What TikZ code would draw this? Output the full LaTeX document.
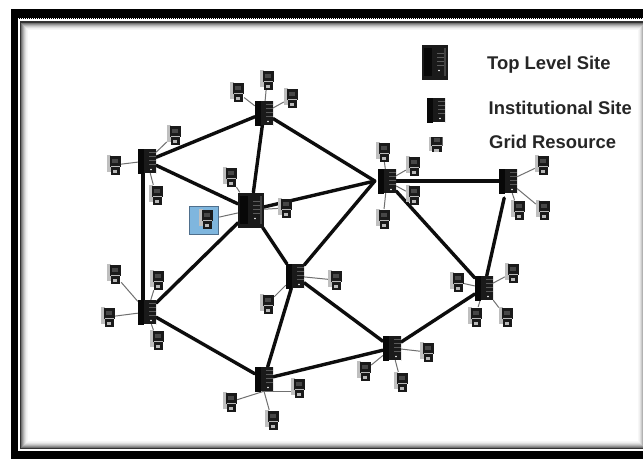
\documentclass[tikz,border=0pt]{standalone}
\usepackage{fontspec}
\setmainfont{Liberation Sans}
\usetikzlibrary{backgrounds}
\definecolor{srv}{HTML}{1A1A1A}
\definecolor{wirec}{HTML}{707070}
\definecolor{labelc}{HTML}{262626}
\definecolor{boxfill}{HTML}{7FB6DE}
\definecolor{boxline}{HTML}{4F6F8C}
\newcommand{\serverart}[1]{%
  \begin{scope}[shift={(path picture bounding box.center)},scale=#1]
    \fill[black!70!srv] (-11,-14) rectangle (-3,14);
    \fill[white!18!srv] (9,-14) rectangle (11,14);
    \foreach \yy in {-9,-5,-1,3}{\fill[white!28!srv] (2,\yy) rectangle (9,\yy+.9);}
    \fill[white!70] (4,8.5) circle (.9);
  \end{scope}}
\newcommand{\resourceart}[1]{%
  \begin{scope}[shift={(path picture bounding box.center)},yscale=#1]
    \fill[gray!50] (-7,-10) rectangle (-3.5,7);
    \fill[srv] (-4.5,-9) rectangle (7,1.5);
    \fill[srv] (-3.5,1.5) rectangle (6,10);
    \fill[black!72] (-2,-6.5) rectangle (4,-2);
    \fill[gray!55] (-1.5,4.5) rectangle (3,7.5);
    \draw[gray!55, line width=.5pt] (-3.5,1.5) -- (6,1.5);
  \end{scope}}
\tikzset{
  x=1pt,y=-1pt,
  instsite/.style={rectangle,inner sep=0pt,minimum width=18pt,minimum height=24pt,
    fill=srv,path picture={\serverart{.85}}},
  topsite/.style={rectangle,inner sep=0pt,minimum width=26pt,minimum height=35pt,
    fill=srv,path picture={\serverart{1.25}}},
  gridres/.style={rectangle,inner sep=0pt,minimum width=14pt,minimum height=20pt,
    path picture={\resourceart{1}}},
  legendres/.style={rectangle,inner sep=0pt,minimum width=14pt,minimum height=14pt,
    path picture={\resourceart{.7}}},
  bluebox/.style={rectangle,inner sep=0pt,minimum width=29pt,minimum height=28pt,
    fill=boxfill,draw=boxline,line width=1.6pt},
  trunk/.style={line width=3.4pt,black!95,line cap=round},
  wire/.style={line width=1pt,wirec},
  legendtext/.style={anchor=west,inner sep=0pt,text=labelc,font=\bfseries\fontsize{18.4}{21}\selectfont}
}
\begin{document}
\begin{tikzpicture}
\useasboundingbox (0,0) rectangle (643,459);

% sites
\node[instsite] (A) at (264,113) {};
\node[instsite] (B) at (147,161) {};
\node[topsite]  (C) at (251,210) {};
\node[instsite] (D) at (387,181) {};
\node[instsite] (E) at (508,181) {};
\node[instsite] (F) at (295,276) {};
\node[instsite] (G) at (147,312) {};
\node[instsite] (H) at (264,379) {};
\node[instsite] (I) at (392,348) {};
\node[instsite] (J) at (484,288) {};
\coordinate (Dw) at ([xshift=-3pt]D.west);

% resources
\node[gridres] (a1) at (237,92) {};
\node[gridres] (a2) at (267,80) {};
\node[gridres] (a3) at (291,98) {};
\node[gridres] (b1) at (114,165) {};
\node[gridres] (b2) at (174,135) {};
\node[gridres] (b3) at (156,195) {};
\node[gridres] (c1) at (230,177) {};
\node[gridres] (c2) at (285,208) {};
\node[bluebox] (hl) at (204,220.5) {};
\node[gridres] (c3) at (206,219) {};
\node[gridres] (d1) at (383,152) {};
\node[gridres] (d2) at (413,166) {};
\node[gridres] (d3) at (413,195) {};
\node[gridres] (d4) at (383,219) {};
\node[gridres] (e1) at (542,165) {};
\node[gridres] (e2) at (518,210) {};
\node[gridres] (e3) at (543,210) {};
\node[gridres] (f1) at (267,304) {};
\node[gridres] (f2) at (335,280) {};
\node[gridres] (g1) at (114,274) {};
\node[gridres] (g2) at (157,280) {};
\node[gridres] (g3) at (108,317) {};
\node[gridres] (g4) at (157,340) {};
\node[gridres] (h1) at (230,402) {};
\node[gridres] (h2) at (298,388) {};
\node[gridres] (h3) at (272,420) {};
\node[gridres] (i1) at (364,371) {};
\node[gridres] (i2) at (427,352) {};
\node[gridres] (i3) at (401,382) {};
\node[gridres] (j1) at (457,282) {};
\node[gridres] (j2) at (512,273) {};
\node[gridres] (j3) at (475,317) {};
\node[gridres] (j4) at (506,317) {};

% legend
\node[topsite]    (lt) at (435,62) {};
\node[instsite]   (li) at (436,110) {};
\node[legendres]  (lr) at (435.5,144) {};
\node[legendtext] (tt) at (487,65) {Top Level Site};
\node[legendtext] (ti) at (488.5,108) {Institutional Site};
\node[legendtext] (tr) at (489,142) {Grid Resource};

\begin{scope}[on background layer]
% frame
\fill[white] (0,0) rectangle (643,459);
\fill[black] (11,9) rectangle (643,459);
\fill[white] (17.5,18) rectangle (643,451);
\draw[black,line width=1pt,dash pattern=on 1pt off 1pt] (11,18.2) -- (643,18.2);
\draw[black,line width=1pt,dash pattern=on 1pt off 1pt] (17.6,18) -- (17.6,451);
\draw[black,line width=1pt,dash pattern=on 1pt off 1pt] (17.5,451) -- (643,451);
\fill[black!80] (20,20.5) rectangle (643,448.5);
\foreach \ii/\cc in {0/55,1/42,2/30,3/20,4/12,5/6,6/3}{
  \fill[black!\cc] (21+\ii,22.5+\ii) rectangle (645-\ii,447.5-\ii);}
\fill[white] (28,29.5) rectangle (638,441);

% resource wires
\foreach \rr/\ss in {a1/A,a2/A,a3/A,b1/B,b2/B,b3/B,c1/C,c2/C,hl/C,d1/D,d2/D,d3/D,d4/D,
  e1/E,e2/E,e3/E,f1/F,f2/F,g1/G,g2/G,g3/G,g4/G,i1/I,i2/I,i3/I,j1/J,j2/J,j3/J,j4/J}{
  \draw[wire] (\rr) -- (\ss);}
\draw[wire] (h1) -- (H.south);
\draw[wire] (h2.west |- H.south) -- (H.south);
\draw[wire] (h3) -- (H.south);

% trunks
\draw[trunk] (B) -- (A);
\draw[trunk] (A) -- (C);
\draw[trunk] (A) -- (Dw);
\draw[trunk] (B) -- (C);
\draw[trunk,line width=4pt,line cap=butt] ([xshift=-4pt]B.south) -- ([xshift=-4pt]G.north);
\draw[trunk] (C) -- (Dw);
\draw[trunk] (C) -- (G);
\draw[trunk] (C) -- (F);
\draw[trunk] (F) -- (Dw);
\draw[trunk] (D) -- (E);
\draw[trunk] (D) -- (J);
\draw[trunk,shorten <=5pt] (E) -- (J);
\draw[trunk] (F) -- (H);
\draw[trunk] (F) -- (I);
\draw[trunk] (G) -- (H);
\draw[trunk] (H) -- (I);
\draw[trunk] (I) -- (J);
\end{scope}
\end{tikzpicture}
\end{document}
